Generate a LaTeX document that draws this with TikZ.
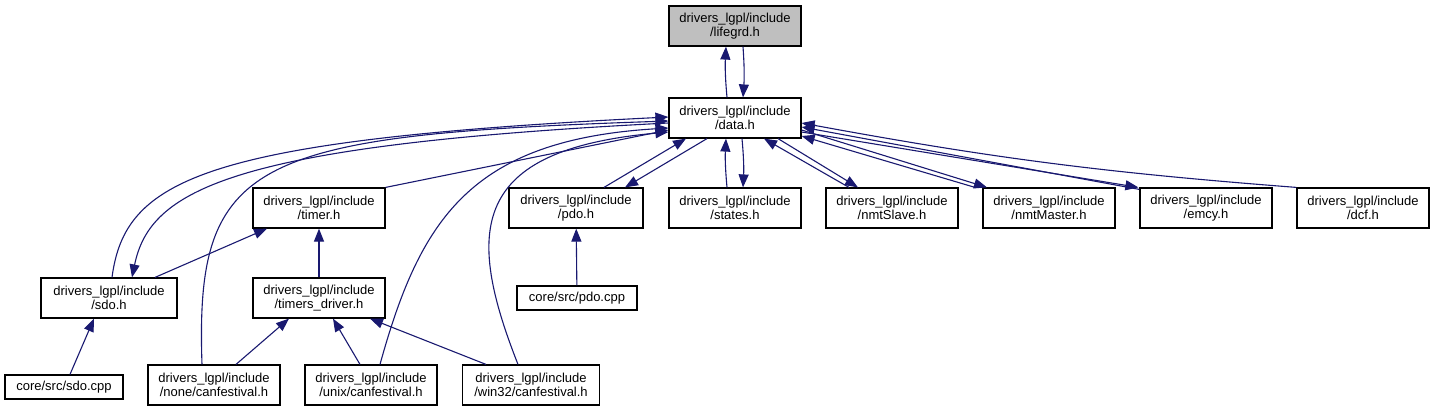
\documentclass[tikz,border=0pt]{standalone}
\usepackage{fontspec}
\setmainfont{Liberation Sans}
\usetikzlibrary{arrows.meta}
\definecolor{linkblue}{HTML}{191970}
\definecolor{hilite}{HTML}{BFBFBF}
\tikzset{
  font=\fontsize{13}{14}\selectfont,
  file/.style={draw=black, line width=1.2pt, fill=white, align=center,
               minimum width=132pt, minimum height=40pt, inner sep=0pt},
  small/.style={file, minimum height=24pt},
  dep/.style={draw=linkblue, line width=1.1pt,
              -{Triangle[length=13pt,width=10pt]}}
}
\begin{document}
\begin{tikzpicture}[x=1pt,y=-1pt]
\useasboundingbox (0,0) rectangle (1436,416);

% Header under inspection and its direct partner.
\node[file, fill=hilite] (lifegrd) at (735,26) {drivers\_lgpl/include\\/lifegrd.h};
\node[file] (data) at (735,118) {drivers\_lgpl/include\\/data.h};

% Second row of headers.
\node[file] (timer) at (319,208) {drivers\_lgpl/include\\/timer.h};
\node[file, minimum width=134pt] (pdoh) at (576,208) {drivers\_lgpl/include\\/pdo.h};
\node[file] (states) at (735,208) {drivers\_lgpl/include\\/states.h};
\node[file] (nmtslave) at (892,208) {drivers\_lgpl/include\\/nmtSlave.h};
\node[file] (nmtmaster) at (1049,208) {drivers\_lgpl/include\\/nmtMaster.h};
\node[file] (emcy) at (1206,208) {drivers\_lgpl/include\\/emcy.h};
\node[file] (dcf) at (1363,208) {drivers\_lgpl/include\\/dcf.h};

% Third and fourth rows.
\node[file, minimum width=136pt] (sdoh) at (109,298) {drivers\_lgpl/include\\/sdo.h};
\node[file] (timersdrv) at (319,298) {drivers\_lgpl/include\\/timers\_driver.h};
\node[small, minimum width=120pt] (pdocpp) at (577,298) {core/src/pdo.cpp};
\node[small, minimum width=118pt] (sdocpp) at (64,387) {core/src/sdo.cpp};
\node[file] (none) at (214,385) {drivers\_lgpl/include\\/none/canfestival.h};
\node[file] (unix) at (371,385) {drivers\_lgpl/include\\/unix/canfestival.h};
\node[file, minimum width=137pt] (win32) at (531,385) {drivers\_lgpl/include\\/win32/canfestival.h};

% Circular include between data.h and lifegrd.h.
\draw[dep] ([xshift=-8]data.north) to[bend left=4] ([xshift=-9]lifegrd.south);
\draw[dep] ([xshift=8]lifegrd.south) to[bend left=4] ([xshift=8]data.north);

% data.h and the second row.
\draw[dep] ([xshift=28]pdoh.north) -- ([xshift=-49]data.south);
\draw[dep] ([xshift=-28]data.south) -- ([xshift=49]pdoh.north);
\draw[dep] ([xshift=-8]states.north) to[bend left=4] ([xshift=-9]data.south);
\draw[dep] ([xshift=7]data.south) to[bend left=4] ([xshift=8]states.north);
\draw[dep] ([xshift=-43]nmtslave.north) -- ([xshift=29]data.south);
\draw[dep] ([xshift=43]data.south) -- ([xshift=-34]nmtslave.north);
\draw[dep] ([xshift=-74]nmtmaster.north) -- ([yshift=-18]data.east);
\draw[dep] ([yshift=-12]data.east) -- ([xshift=-62]nmtmaster.north);
\draw[dep] ([yshift=-2]emcy.north west) -- ([yshift=-9]data.east);
\draw[dep] ([yshift=-14]data.east) -- ([xshift=-1]emcy.north west);
\draw[dep] (dcf.north west) to[bend left=3] ([yshift=-5]data.east);

% Long includes arriving at the left of data.h.
\draw[dep] ([xshift=3]sdoh.north) .. controls (125,180) and (200,140) .. ([yshift=1]data.west);
\draw[dep] ([yshift=-5]data.west) .. controls (230,145) and (150,190) .. ([xshift=23]sdoh.north);
\draw[dep] ([xshift=-12]none.north) .. controls (195,160) and (250,135) .. ([yshift=-3]data.west);
\draw[dep] (timer.north east) -- ([yshift=-12]data.west);
\draw[dep] ([xshift=9]unix.north) .. controls (420,220) and (470,140) .. ([yshift=-10]data.west);
\draw[dep] ([xshift=-13]win32.north) .. controls (465,230) and (470,150) .. ([yshift=-14]data.west);

% Lower part of the graph.
\draw[dep] ([xshift=46]sdoh.north) -- ([xshift=-52]timer.south);
\draw[dep] (timersdrv) -- (timer);
\draw[dep] (pdocpp) -- (pdoh);
\draw[dep] ([xshift=6]sdocpp.north) -- ([xshift=-15]sdoh.south);
\draw[dep] ([xshift=22]none.north) -- ([xshift=-30]timersdrv.south);
\draw[dep] ([xshift=-11]unix.north) -- ([xshift=14]timersdrv.south);
\draw[dep] ([xshift=-45]win32.north) -- ([xshift=51]timersdrv.south);

\end{tikzpicture}
\end{document}
